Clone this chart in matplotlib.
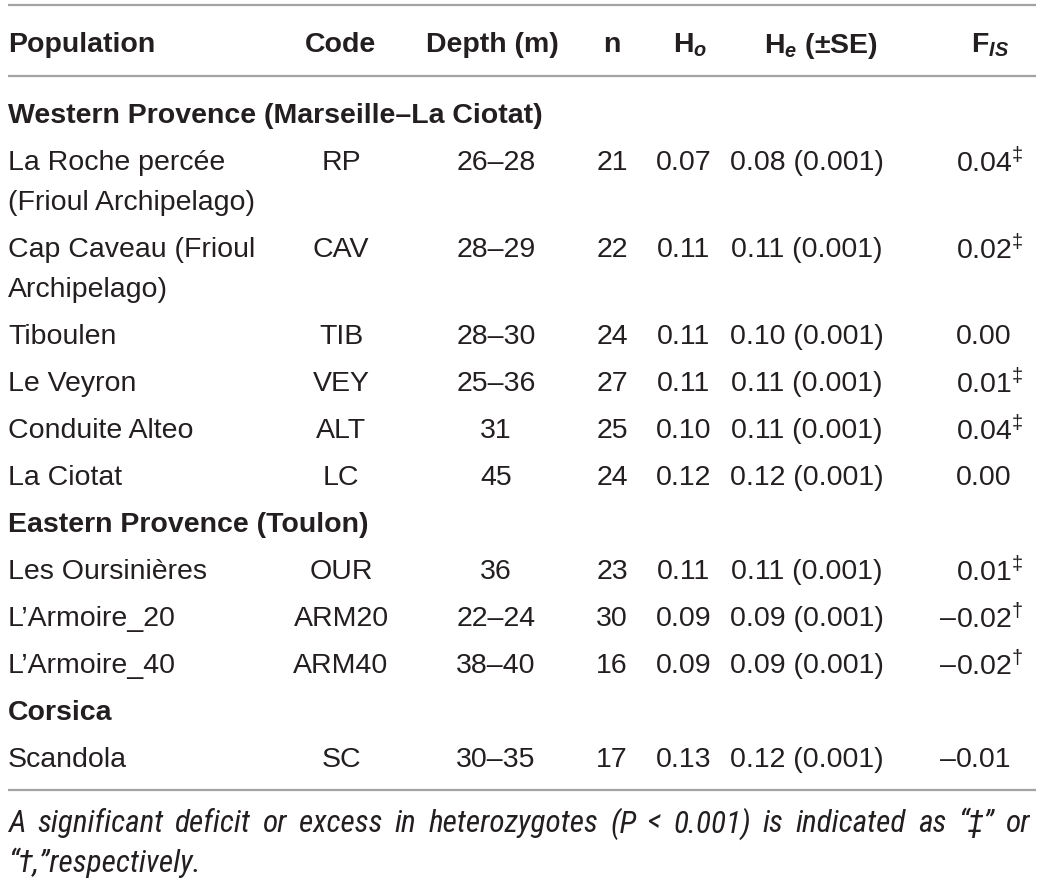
import matplotlib
matplotlib.use("Agg")
import matplotlib.pyplot as plt

plt.rcParams['font.family'] = ['Liberation Sans', 'DejaVu Sans']
plt.rcParams['mathtext.fontset'] = 'custom'
plt.rcParams['mathtext.rm'] = 'Liberation Sans'
plt.rcParams['mathtext.it'] = 'Liberation Sans:italic'
plt.rcParams['mathtext.bf'] = 'Liberation Sans:bold'
plt.rcParams['mathtext.bfit'] = 'Liberation Sans:bold:italic'

# datos de la tabla
sections = ["Western Provence (Marseille–La Ciotat)",
            "Eastern Provence (Toulon)",
            "Corsica"]
pop_section = [0, 0, 0, 0, 0, 0, 1, 1, 1, 2]
pop_names = ["La Roche percée\n(Frioul Archipelago)",
             "Cap Caveau (Frioul\nArchipelago)",
             "Tiboulen", "Le Veyron", "Conduite Alteo", "La Ciotat",
             "Les Oursinières", "L’Armoire_20", "L’Armoire_40",
             "Scandola"]
pop_codes = ["RP", "CAV", "TIB", "VEY", "ALT", "LC", "OUR", "ARM20", "ARM40", "SC"]
depths = ["26–28", "28–29", "28–30", "25–36", "31", "45", "36", "22–24", "38–40", "30–35"]
n_ind = [21, 22, 24, 27, 25, 24, 23, 30, 16, 17]
ho = [0.07, 0.11, 0.11, 0.11, 0.10, 0.12, 0.11, 0.09, 0.09, 0.13]
he = [0.08, 0.11, 0.10, 0.11, 0.11, 0.12, 0.11, 0.09, 0.09, 0.12]
he_se = [0.001] * 10
fis = [0.04, 0.02, 0.00, 0.01, 0.04, 0.00, 0.01, -0.02, -0.02, -0.01]
fis_mark = ["‡", "‡", "", "‡", "‡", "", "‡", "†", "†", ""]

headers = ["Population", "Code", "Depth (m)", "n",
           r"$\mathbf{H}_{\mathbfit{o}}$",
           r"$\mathbf{H}_{\mathbfit{e}}$ (±SE)",
           r"F$_{\mathbfit{IS}}$"]
footnote = ["A significant deficit or excess in heterozygotes (P < 0.001) is indicated as “‡” or",
            "“†,”respectively."]

W, H = 1044, 881
TXT = '#231f20'
LINE = '#a3a3a3'
FS = 20.5

fig = plt.figure(figsize=(W / 100, H / 100), dpi=100)
ax = fig.add_axes([0, 0, 1, 1])
ax.set_xlim(0, W)
ax.set_ylim(H, 0)
ax.axis('off')

x_left = 8
col_x = [x_left, 341, 496, 612, 684, 807]
head_x = [x_left, 341, 492, 612, 690, 821, 990]
x_fis = 956

# lineas horizontales
ax.hlines([5, 76, 790], 8, 1036, color=LINE, lw=1.6)

# encabezado
y_head = 42
for i, h in enumerate(headers):
    ax.text(head_x[i], y_head, h, ha='left' if i == 0 else 'center', va='center_baseline',
            fontsize=FS, fontweight='bold', color=TXT)

# filas
step = 47
wrap = 40
y = 113
cur = -1
for i in range(len(pop_names)):
    if pop_section[i] != cur:
        cur = pop_section[i]
        ax.text(x_left, y, sections[cur], ha='left', va='center_baseline',
                fontsize=FS, fontweight='bold', color=TXT)
        y += step
    lines = pop_names[i].split("\n")
    for k, ln in enumerate(lines):
        ax.text(x_left, y + k * wrap, ln, ha='left', va='center_baseline', fontsize=FS, color=TXT)
    vals = [pop_codes[i], depths[i], str(n_ind[i]), f"{ho[i]:.2f}",
            f"{he[i]:.2f} ({he_se[i]:.3f})"]
    for j, v in enumerate(vals):
        ax.text(col_x[j + 1], y, v, ha='center', va='center_baseline', fontsize=FS, color=TXT)
    s = f"{abs(fis[i]):.2f}"
    if fis_mark[i] == "‡":
        s += r"$^{\ddag}$"
    elif fis_mark[i] == "†":
        s += r"$^{\dag}$"
    ax.text(x_fis, y, s, ha='left', va='center_baseline', fontsize=FS, color=TXT)
    if fis[i] < 0:
        ax.text(x_fis, y, "–", ha='right', va='center_baseline', fontsize=FS, color=TXT)
    y += step + wrap * (len(lines) - 1)

# nota al pie, justificada
fig.canvas.draw()
rend = fig.canvas.get_renderer()
fn_fam = ['Liberation Sans Narrow', 'Roboto Condensed', 'Liberation Sans']
fn_fs = 22.5
words = footnote[0].split(" ")
arts = [ax.text(0, 820, w, ha='left', va='center_baseline', fontsize=fn_fs,
                style='italic', family=fn_fam, color=TXT) for w in words]
widths = [a.get_window_extent(rend).width for a in arts]
gap = (1030 - x_left - sum(widths)) / (len(words) - 1)
xx = x_left
for a, wd in zip(arts, widths):
    a.set_x(xx)
    xx += wd + gap
ax.text(x_left, 860, footnote[1], ha='left', va='center_baseline', fontsize=fn_fs,
        style='italic', family=fn_fam, color=TXT)

fig.savefig("out.png", dpi=100)
